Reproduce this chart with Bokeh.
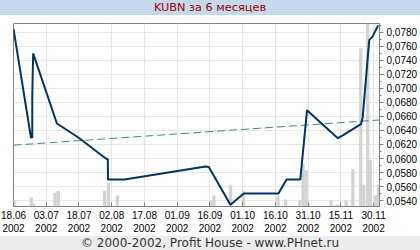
from bokeh.plotting import figure
from bokeh.models import Range1d, FixedTicker, Div
from bokeh.layouts import column
from bokeh.embed import file_html
from bokeh.resources import INLINE

# ---- data (days counted from 18.06.2002) ----
price_day = [0, 8.0, 8.6, 8.6, 9.0, 19.9, 29.7, 42.3, 43.2, 43.3, 50.9, 88.0, 89.5,
             99.4, 105.5, 121.4, 125.1, 131.4, 134.5, 148.6, 150.9, 159.2, 160.0,
             163.0, 164.5, 167.1]
price_val = [0.0785, 0.0630, 0.0630, 0.0689, 0.0750, 0.0650, 0.0630, 0.0600, 0.0599,
             0.0570, 0.0570, 0.05885, 0.0588, 0.0534, 0.0550, 0.0550, 0.0570, 0.0570,
             0.0669, 0.0629, 0.0633, 0.0649, 0.0659, 0.0769, 0.0774, 0.0790]

trend_day = [0, 167.7]
trend_val = [0.0619, 0.0655]

vol_day = [0.5, 8.1, 9.3, 19.0, 20.5, 41.7, 43.5, 47.6, 90.3, 91.8, 99.5, 105.3,
           121.2, 124.7, 131.2, 132.7, 134.1, 135.0, 145.5, 148.2, 152.4, 155.5,
           159.1, 160.5, 162.3, 163.5, 166.0, 167.3]
vol_val = [6, 9, 3, 14, 16, 16, 24, 11, 6, 11, 22, 16,
           11, 7, 6, 43, 37, 3, 6, 2, 6, 38,
           160, 22, 200, 47, 11, 22]

x_tick_days = [0, 15, 30, 45, 60, 75, 90, 105, 120, 135, 150, 165]
x_tick_labels = ["18.06\n2002", "03.07\n2002", "18.07\n2002", "02.08\n2002",
                 "17.08\n2002", "01.09\n2002", "16.09\n2002", "01.10\n2002",
                 "16.10\n2002", "31.10\n2002", "15.11\n2002", "30.11\n2002"]
y_ticks = [0.054, 0.056, 0.058, 0.060, 0.062, 0.064, 0.066, 0.068, 0.070,
           0.072, 0.074, 0.076, 0.078]
y_minor_ticks = [0.055, 0.057, 0.059, 0.061, 0.063, 0.065, 0.067, 0.069, 0.071,
                 0.073, 0.075, 0.077, 0.079]
y_tick_labels = ["0,0540", "0,0560", "0,0580", "0,0600", "0,0620", "0,0640",
                 "0,0660", "0,0680", "0,0700", "0,0720", "0,0740", "0,0760",
                 "0,0780"]

title_text = "KUBN за 6 месяцев"
footer_text = "© 2000-2002, Profit House - www.PHnet.ru"

# ---- figure ----
p = figure(width=420, height=221, output_backend="svg", toolbar_location=None,
           x_range=Range1d(0, 167.7), y_range=Range1d(0.05315, 0.07927),
           y_axis_location="right", min_border_top=8, min_border_bottom=28,
           min_border_left=13, min_border_right=38)
p.extra_y_ranges = {"vol": Range1d(0, 185)}
p.outline_line_color = "#808080"
p.background_fill_color = "white"
p.border_fill_color = "white"

grid_color = "#e6e6e6"
p.xgrid.ticker = FixedTicker(ticks=x_tick_days)
p.xgrid.grid_line_color = grid_color
p.ygrid.grid_line_color = grid_color

xa = p.xaxis[0]
xa.ticker = FixedTicker(ticks=x_tick_days)
xa.major_label_overrides = {d: l for d, l in zip(x_tick_days, x_tick_labels)}
xa.major_tick_in = 4
xa.major_tick_out = 0
xa.minor_tick_line_color = None
xa.axis_line_color = "#808080"
xa.major_tick_line_color = "#808080"
xa.major_label_standoff = 3
xa.major_label_text_font = "Liberation Sans"
xa.major_label_text_font_size = "10px"
xa.major_label_text_color = "black"

ya = p.yaxis[0]
ya.ticker = FixedTicker(ticks=y_ticks, minor_ticks=y_minor_ticks)
ya.major_label_overrides = {t: l for t, l in zip(y_ticks, y_tick_labels)}
ya.major_tick_in = 0
ya.major_tick_out = 4
ya.minor_tick_in = 0
ya.minor_tick_out = 2
ya.axis_line_color = "#808080"
ya.major_tick_line_color = "#808080"
ya.minor_tick_line_color = "#808080"
ya.major_label_standoff = 3
ya.major_label_text_font = "Liberation Sans"
ya.major_label_text_font_size = "10px"
ya.major_label_text_color = "black"

p.vbar(x=vol_day, top=vol_val, bottom=0, width=1.5, y_range_name="vol",
       fill_color="#d3d3d3", line_color=None)
p.line(trend_day, trend_val, line_color="#3a8a84", line_width=1, line_dash="8 4")
p.line(price_day, price_val, line_color="#003366", line_width=2)

title_div = Div(text=title_text, width=420, height=15, margin=0,
                styles={"background-color": "#c5d9ec", "color": "#a00000",
                        "font-family": "DejaVu Sans", "font-size": "11.3px",
                        "text-align": "center", "line-height": "15px",
                        "width": "420px", "height": "15px"})
footer_div = Div(text=footer_text, width=420, height=14, margin=0,
                 styles={"background-color": "#ececec", "color": "#333333",
                         "font-family": "DejaVu Sans", "font-size": "12px",
                         "text-align": "center", "line-height": "14px",
                         "width": "420px", "height": "14px"})

layout = column(title_div, p, footer_div, spacing=0, margin=0)
open("out.html", "w").write(file_html(layout, INLINE))
